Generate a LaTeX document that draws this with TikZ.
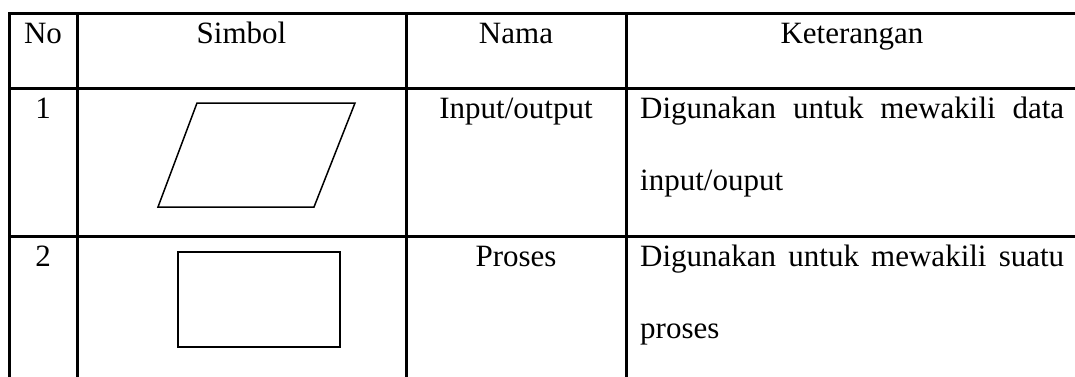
\documentclass[tikz,border=0pt]{standalone}
\usepackage{fontspec}
\setmainfont{Liberation Serif}
\begin{document}
\begin{tikzpicture}[x=1pt,y=-1pt,
  grid/.style={line width=3pt,line cap=rect},
  shapeline/.style={line width=1.5pt,line join=miter},
  cell/.style={anchor=base,inner sep=0pt,font=\fontsize{31}{37}\selectfont},
  lcell/.style={cell,anchor=base west}]
\useasboundingbox (0,0) rectangle (1075,376);
\fill[white] (0,0) rectangle (1075,376);
% table rules
\draw[grid] (9,13) -- (1085,13);
\draw[grid] (9,88) -- (1085,88);
\draw[grid] (9,236) -- (1085,236);
\draw[grid] (9,13) -- (9,385);
\draw[grid] (77,13) -- (77,385);
\draw[grid] (406,13) -- (406,385);
\draw[grid] (626,13) -- (626,385);
% header
\node[cell] (hno) at (43,43) {No};
\node[cell] (hsim) at (241.5,43) {Simbol};
\node[cell] (hnama) at (516,43) {Nama};
\node[cell] (hket) at (852,43) {Keterangan};
% row 1
\node[cell] (n1) at (43,118) {1};
\draw[shapeline] (197,103) -- (355,103) -- (314,207) -- (158,207) -- cycle;
\node[cell] (nama1) at (516,118) {Input/output};
\node[lcell] (k1a) at (640,118) {\hbox to 424pt{Digunakan \hfill untuk \hfill mewakili \hfill data}};
\node[lcell] (k1b) at (640,190) {input/ouput};
% row 2
\node[cell] (n2) at (43,266) {2};
\draw[shapeline] (178,252) rectangle (340,347);
\node[cell] (nama2) at (516,266) {Proses};
\node[lcell] (k2a) at (640,266) {\hbox to 424pt{Digunakan \hfill untuk \hfill mewakili \hfill suatu}};
\node[lcell] (k2b) at (640,338) {proses};
\end{tikzpicture}
\end{document}
